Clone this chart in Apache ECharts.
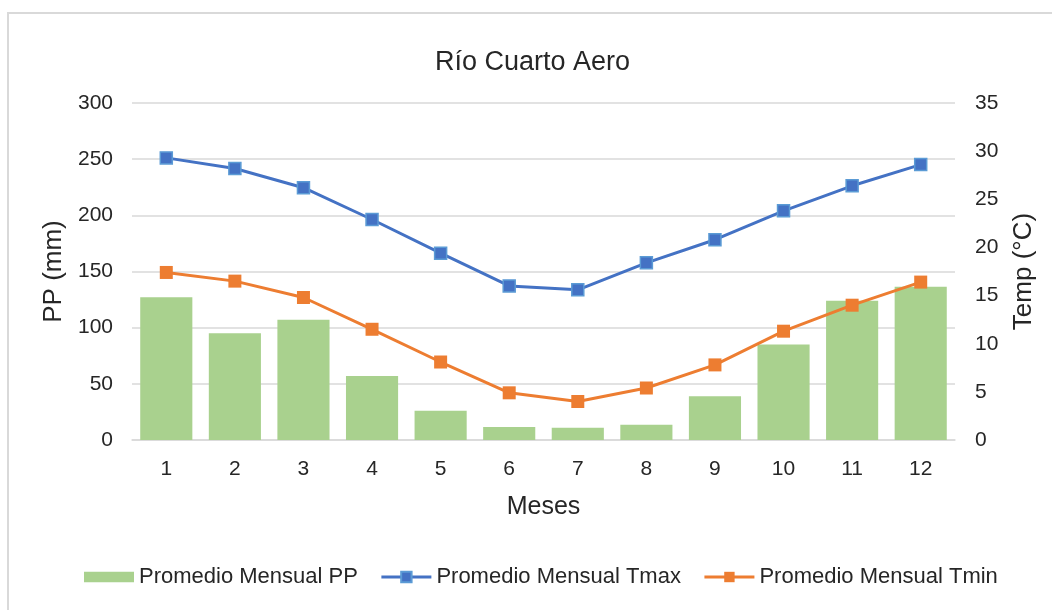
<!DOCTYPE html>
<html>
<head>
<meta charset="utf-8">
<script src="https://cdn.jsdelivr.net/npm/echarts@6/dist/echarts.min.js"></script>
<style>
html,body{margin:0;padding:0;background:#fff;}
#c{width:1052px;height:610px;}
</style>
</head>
<body>
<div id="c"></div>
<script>
const months = ['1','2','3','4','5','6','7','8','9','10','11','12'];
const ppValues = [127, 95, 107, 57, 26, 11.5, 11, 13.5, 39, 85, 124, 136.5];
const tmaxValues = [29.3, 28.2, 26.2, 22.9, 19.4, 16.0, 15.6, 18.4, 20.8, 23.8, 26.4, 28.6];
const tminValues = [17.4, 16.5, 14.8, 11.5, 8.1, 4.9, 4.0, 5.4, 7.8, 11.3, 14.0, 16.4];
const seriesNames = ['Promedio Mensual PP', 'Promedio Mensual Tmax', 'Promedio Mensual Tmin'];

const FONT = '"Liberation Sans", Arial, sans-serif';
const TXT = '#262626';
const chart = echarts.init(document.getElementById('c'), null, {renderer: 'canvas'});
chart.setOption({
  animation: false,
  backgroundColor: '#ffffff',
  textStyle: {fontFamily: FONT, color: TXT},
  graphic: [{
    type: 'rect',
    shape: {x: 8, y: 13, width: 1100, height: 700},
    style: {fill: 'none', stroke: '#d9d9d9', lineWidth: 2},
    silent: true, z: -10
  }],
  title: {
    text: 'Río Cuarto Aero',
    left: 430,
    top: 44,
    textStyle: {fontFamily: FONT, fontSize: 27, fontWeight: 'normal', color: TXT}
  },
  grid: {left: 132, right: 97, top: 103, bottom: 170, containLabel: false},
  legend: {
    bottom: 17,
    left: 79,
    itemGap: 22,
    itemWidth: 50,
    itemHeight: 13,
    textStyle: {fontFamily: FONT, fontSize: 22, color: TXT},
    data: [
      {name: seriesNames[0], icon: 'path://M0,0h48v10h-48z'},
      {name: seriesNames[1], lineStyle: {width: 3}},
      {name: seriesNames[2], lineStyle: {width: 3}}
    ]
  },
  xAxis: {
    type: 'category',
    data: months,
    name: 'Meses',
    nameLocation: 'middle',
    nameGap: 55,
    nameTextStyle: {fontFamily: FONT, fontSize: 25, color: TXT},
    axisLine: {lineStyle: {color: '#d9d9d9', width: 1.5}},
    axisTick: {show: false},
    axisLabel: {fontFamily: FONT, fontSize: 21, color: TXT, margin: 19}
  },
  yAxis: [{
    type: 'value',
    min: 0, max: 300, interval: 50,
    name: 'PP (mm)',
    nameLocation: 'middle',
    nameGap: 62,
    nameTextStyle: {fontFamily: FONT, fontSize: 26, color: TXT},
    axisLine: {show: false},
    axisTick: {show: false},
    splitLine: {lineStyle: {color: '#d9d9d9', width: 1.5}},
    axisLabel: {fontFamily: FONT, fontSize: 21, color: TXT, margin: 19}
  }, {
    type: 'value',
    min: 0, max: 35, interval: 5,
    position: 'right',
    name: 'Temp (°C)',
    nameLocation: 'middle',
    nameRotate: 90,
    nameGap: 56,
    nameTextStyle: {fontFamily: FONT, fontSize: 26, color: TXT},
    axisLine: {show: false},
    axisTick: {show: false},
    splitLine: {show: false},
    axisLabel: {fontFamily: FONT, fontSize: 21, color: TXT, margin: 20}
  }],
  series: [{
    name: seriesNames[0],
    type: 'bar',
    yAxisIndex: 0,
    data: ppValues,
    barCategoryGap: '24%',
    itemStyle: {color: '#A9D18E'}
  }, {
    name: seriesNames[1],
    type: 'line',
    yAxisIndex: 1,
    data: tmaxValues,
    symbol: 'rect',
    symbolSize: 12,
    lineStyle: {color: '#4472C4', width: 3},
    itemStyle: {color: '#4472C4', borderColor: '#5B9BD5', borderWidth: 1.5}
  }, {
    name: seriesNames[2],
    type: 'line',
    yAxisIndex: 1,
    data: tminValues,
    symbol: 'rect',
    symbolSize: 13,
    lineStyle: {color: '#ED7D31', width: 3},
    itemStyle: {color: '#ED7D31'}
  }]
});
</script>
</body>
</html>
